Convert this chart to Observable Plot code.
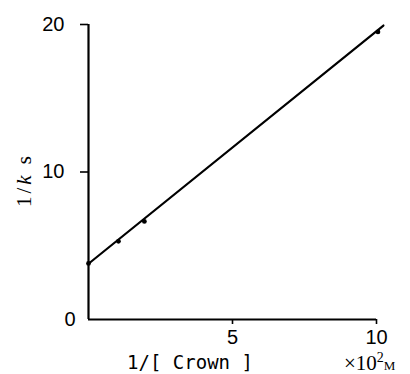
<!DOCTYPE html>
<html><head><meta charset="utf-8">
<script src="https://cdn.jsdelivr.net/npm/d3@7"></script>
<script src="https://cdn.jsdelivr.net/npm/@observablehq/plot@0.6"></script>
<style>body{margin:0;background:#fff}</style>
</head><body><div id="chart"></div>
<script>
const invCrown = [0, 1.04, 1.94, 10.05];
const invK = [3.8, 5.3, 6.65, 19.5];
const fitX = [0, 10.24];
const fitY = [3.78, 19.93];
const yTicks = [10, 20];
const xTicks = [5, 10];

const pts = invCrown.map((x, i) => ({x, y: invK[i]}));
const fit = fitX.map((x, i) => ({x, y: fitY[i]}));

const chart = Plot.plot({
  width: 410, height: 374,
  marginLeft: 88, marginRight: 34, marginTop: 24, marginBottom: 55,
  style: {fontFamily: "Liberation Sans, Arial, sans-serif", fontSize: "20px", color: "#000", background: "#fff"},
  x: {domain: [0, 10]},
  y: {domain: [0, 20]},
  marks: [
    Plot.ruleY([0], {x1: 0, x2: 10, stroke: "#000", strokeWidth: 2.2}),
    Plot.ruleX([0], {y1: 0, y2: 20, stroke: "#000", strokeWidth: 2.2}),
    Plot.axisY(yTicks, {tickSize: 8, tickPadding: 16, strokeWidth: 1.6, fontSize: 20, label: null}),
    Plot.axisY([0], {tickSize: 0, tickPadding: 13, fontSize: 20, label: null}),
    Plot.axisX(xTicks, {tickSize: 5, tickPadding: 5, strokeWidth: 1.6, fontSize: 20, label: null}),
    Plot.line(fit, {x: "x", y: "y", stroke: "#000", strokeWidth: 2.2}),
    Plot.dot(pts, {x: "x", y: "y", r: 2.4, fill: "#000"})
  ]
});
document.getElementById("chart").appendChild(chart);

const svg = d3.select(chart);
svg.append("text")
  .attr("x", 190).attr("y", 369)
  .attr("text-anchor", "middle")
  .attr("fill", "#000")
  .style("font-family", "DejaVu Sans Mono, monospace")
  .style("font-size", "19px")
  .text("1/[ Crown ]");
const u = svg.append("text")
  .attr("x", 344).attr("y", 370)
  .attr("text-anchor", "start")
  .attr("fill", "#000")
  .style("font-family", "Liberation Serif, DejaVu Serif, serif")
  .style("font-size", "21px");
u.append("tspan").text("×10");
u.append("tspan").attr("dy", -8).style("font-size", "14px").text("2");
u.append("tspan").attr("dy", 8).style("font-size", "13px").text("M");
const yl = svg.append("text")
  .attr("transform", "translate(31,180) rotate(-90)")
  .attr("text-anchor", "middle")
  .attr("fill", "#000")
  .style("font-family", "Liberation Serif, DejaVu Serif, serif")
  .style("font-size", "21px")
  .style("letter-spacing", "3px");
yl.append("tspan").text("1/");
yl.append("tspan").style("font-style", "italic").text("k");
yl.append("tspan").text("\u00a0s");
</script></body></html>
